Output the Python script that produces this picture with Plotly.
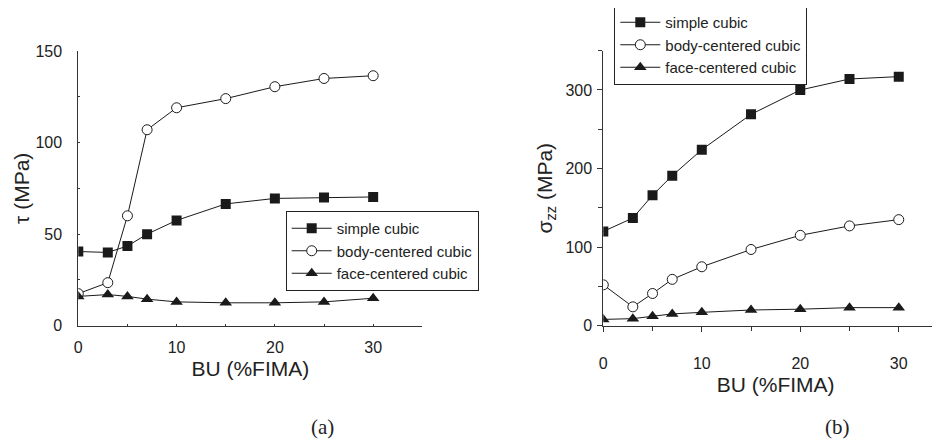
import plotly.graph_objects as go

bu = [0, 3, 5, 7, 10, 15, 20, 25, 30]

# Panel (a): tau (MPa)
tau_simple = [40.5, 40, 43.5, 50, 57.5, 66.5, 69.5, 70, 70.3]
tau_bcc = [17.5, 23.5, 60, 107, 119, 124, 130.5, 135, 136.5]
tau_fcc = [16, 17, 16, 14.5, 13, 12.5, 12.5, 13, 15]

# Panel (b): sigma_zz (MPa)
sig_simple = [120, 137, 166, 191, 224, 269, 300, 314, 317]
sig_bcc = [52, 24, 41, 59, 75, 97, 115, 127, 135]
sig_fcc = [8, 9, 12, 15, 17, 20, 21, 23, 23]

names = ["simple cubic", "body-centered cubic", "face-centered cubic"]
symbols = ["square", "circle-open", "triangle-up"]
msizes = [10, 10, 11]

LINE = "#1a1a1a"
FONT = "Liberation Sans"
SERIF = "Liberation Serif"

W, H = 940, 441
OFF = 8  # page body margin


def px_x(p):
    return (p - OFF) / W


def px_y(p):
    return 1 - (p - OFF) / H


fig = go.Figure()


def mk(sym, ms):
    if sym == "circle-open":
        return dict(symbol="circle", size=ms, color="white", line=dict(color=LINE, width=1))
    return dict(symbol=sym, size=ms, color=LINE, line=dict(color=LINE, width=0))


for ys, nm, sym, ms in zip([tau_simple, tau_bcc, tau_fcc], names, symbols, msizes):
    fig.add_trace(go.Scatter(x=bu, y=ys, name=nm, mode="lines+markers",
                             line=dict(color=LINE, width=1), marker=mk(sym, ms),
                             xaxis="x", yaxis="y", legend="legend"))

for ys, nm, sym, ms in zip([sig_simple, sig_bcc, sig_fcc], names, symbols, msizes):
    fig.add_trace(go.Scatter(x=bu, y=ys, name=nm, mode="lines+markers",
                             line=dict(color=LINE, width=1), marker=mk(sym, ms),
                             xaxis="x2", yaxis="y2", legend="legend2"))

axfont = dict(family=FONT, size=16, color="#222")
titlefont = dict(family=FONT, size=21, color="#222")
legfont = dict(family=FONT, size=15, color="#222")

common = dict(showgrid=False, zeroline=False, showline=True, linecolor="#333", linewidth=1,
              tickfont=axfont, mirror=False, automargin=False)

fig.update_layout(
    width=W, height=H,
    margin=dict(l=0, r=0, t=0, b=0, autoexpand=False),
    paper_bgcolor="white", plot_bgcolor="white",
    font=dict(family=FONT, color="#222"),
    xaxis=dict(domain=[px_x(78.3), px_x(422.3)], range=[0, 35], tickvals=[0, 10, 20, 30],
               ticks="inside", ticklen=2, tickcolor="#333",
               minor=dict(tickvals=[5, 15, 25], ticks="inside", ticklen=2, tickcolor="#333"),
               ticklabelstandoff=7,
               title=dict(text="BU (%FIMA)", font=titlefont, standoff=6),
               anchor="y", **common),
    yaxis=dict(domain=[px_y(325.7), px_y(51)], range=[0, 150], tickvals=[0, 50, 100, 150],
               ticks="inside", ticklen=2, tickcolor="#333",
               minor=dict(tickvals=[25, 75, 125], ticks="inside", ticklen=2, tickcolor="#333"),
               ticklabelstandoff=12,
               title=dict(text="τ (MPa)", font=titlefont, standoff=0),
               anchor="x", **common),
    xaxis2=dict(domain=[px_x(603.3), 1.0], range=[0, 35], tickvals=[0, 10, 20, 30],
                ticks="outside", ticklen=5, tickcolor="#333",
                minor=dict(tickvals=[5, 15, 25], ticks="outside", ticklen=4, tickcolor="#333"),
                ticklabelstandoff=18,
                title=dict(text="BU (%FIMA)", font=titlefont, standoff=6),
                anchor="y2", **common),
    yaxis2=dict(domain=[px_y(325.7), px_y(50.7)], range=[0, 350], tickvals=[0, 100, 200, 300],
                ticks="outside", ticklen=5, tickcolor="#333",
                minor=dict(tickvals=[50, 150, 250, 350], ticks="outside", ticklen=4, tickcolor="#333"),
                ticklabelstandoff=2,
                title=dict(text="σ<sub>zz</sub> (MPa)", font=titlefont, standoff=7),
                anchor="x2", **common),
    legend=dict(x=px_x(285.7), y=px_y(211), xanchor="left", yanchor="top",
                bordercolor="#222", borderwidth=1, bgcolor="white",
                font=legfont, tracegroupgap=0, itemwidth=40),
    legend2=dict(x=px_x(614.3), y=px_y(5), xanchor="left", yanchor="top",
                 bordercolor="#222", borderwidth=1, bgcolor="white",
                 font=legfont, tracegroupgap=0, itemwidth=40),
    showlegend=True,
)

fig.add_annotation(text="(a)", x=px_x(322), y=px_y(427), xref="paper", yref="paper",
                   xanchor="center", yanchor="middle", showarrow=False,
                   font=dict(family=SERIF, size=21, color="#222"))
fig.add_annotation(text="(b)", x=px_x(837), y=px_y(427), xref="paper", yref="paper",
                   xanchor="center", yanchor="middle", showarrow=False,
                   font=dict(family=SERIF, size=21, color="#222"))

fig.write_html("out.html")
